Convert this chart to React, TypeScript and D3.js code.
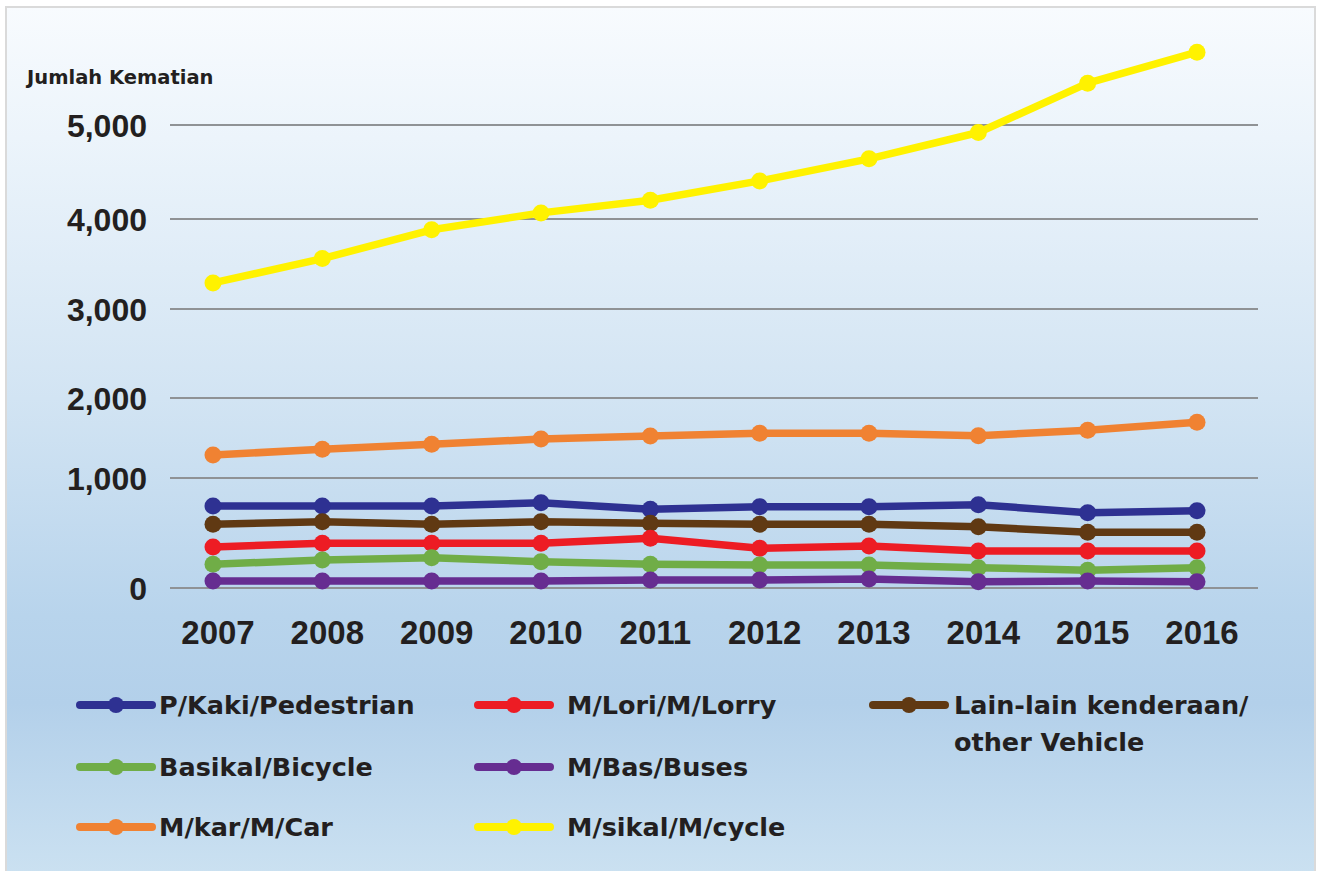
import React from "react";
import * as d3 from "d3";

const years = ["2007", "2008", "2009", "2010", "2011", "2012", "2013", "2014", "2015", "2016"];
const yTicks = [0, 1000, 2000, 3000, 4000, 5000];

const pedestrian = [745, 745, 745, 775, 715, 739, 739, 757, 685, 703];
const lorry = [373, 406, 406, 406, 452, 361, 382, 336, 336, 336];
const otherVehicle = [579, 603, 579, 603, 588, 579, 579, 557, 506, 506];
const bicycle = [215, 255, 275, 239, 215, 209, 209, 185, 161, 185];
const buses = [64, 64, 64, 64, 73, 73, 82, 57, 64, 57];
const car = [1287, 1359, 1421, 1487, 1525, 1559, 1559, 1529, 1596, 1696];
const motorcycle = [3290, 3560, 3880, 4065, 4200, 4405, 4640, 4920, 5445, 5775];

const seriesNames = [
  "M/sikal/M/cycle",
  "M/kar/M/Car",
  "P/Kaki/Pedestrian",
  "Lain-lain kenderaan/ other Vehicle",
  "M/Lori/M/Lorry",
  "Basikal/Bicycle",
  "M/Bas/Buses",
];
const seriesValues = [motorcycle, car, pedestrian, otherVehicle, lorry, bicycle, buses];
const seriesColors = ["#fff200", "#f08232", "#2e3192", "#603913", "#ed1c24", "#70ad47", "#662d91"];

// legend layout: [seriesIndex, column, row]
const legendLayout: [number, number, number][] = [
  [2, 0, 0],
  [4, 1, 0],
  [3, 2, 0],
  [5, 0, 1],
  [6, 1, 1],
  [1, 0, 2],
  [0, 1, 2],
];

export default function App() {
  const W = 1317;
  const H = 871;
  const x = d3.scalePoint<string>().domain(years).range([213, 1197]);
  const y = d3
    .scaleLinear()
    .domain(yTicks)
    .range([588, 478, 398, 309, 219, 125]);
  const line = d3
    .line<number>()
    .x((_, i) => x(years[i]) as number)
    .y((v) => y(v));
  const fmt = d3.format(",");
  const colX = [80, 478, 873];
  const textX = [159, 567, 954];
  const rowY = [705, 767, 827];
  const textColor = "#231f20";
  const legendFont = "'DejaVu Sans', sans-serif";
  const numFont = "'Liberation Sans', Arial, sans-serif";

  return (
    <svg
      width={W}
      height={H}
      style={{ position: "absolute", left: 0, top: 0 }}
      xmlns="http://www.w3.org/2000/svg"
    >
      <defs>
        <linearGradient id="bg" x1="0" y1="0" x2="0" y2="1">
          <stop offset="0" stopColor="#f8fbfe" />
          <stop offset="0.15" stopColor="#ecf4fb" />
          <stop offset="0.45" stopColor="#d2e4f3" />
          <stop offset="0.7" stopColor="#b8d4ec" />
          <stop offset="0.8" stopColor="#b3d0ea" />
          <stop offset="1" stopColor="#cbe1f1" />
        </linearGradient>
      </defs>
      <rect x={0} y={0} width={W} height={H} fill="#ffffff" />
      <rect x={6} y={7} width={1309} height={870} fill="url(#bg)" stroke="#dadada" strokeWidth={2} />

      {/* gridlines */}
      {yTicks.map((t) => (
        <line key={t} x1={170} x2={1258} y1={y(t)} y2={y(t)} stroke="#8f9295" strokeWidth={2} />
      ))}

      {/* y tick labels */}
      {yTicks.map((t) => (
        <text
          key={"l" + t}
          x={147}
          y={y(t) + 11.5}
          textAnchor="end"
          fontFamily={numFont}
          fontWeight="bold"
          fontSize={32}
          fill={textColor}
        >
          {fmt(t)}
        </text>
      ))}

      <text x={27} y={84} fontFamily={legendFont} fontWeight="bold" fontSize={19.5} fill={textColor}>
        Jumlah Kematian
      </text>

      {/* x tick labels */}
      {years.map((yr) => (
        <text
          key={yr}
          x={(x(yr) as number) + 5}
          y={644}
          textAnchor="middle"
          fontFamily={numFont}
          fontWeight="bold"
          fontSize={33}
          fill={textColor}
        >
          {yr}
        </text>
      ))}

      {/* series */}
      {seriesValues.map((vals, si) => (
        <g key={seriesNames[si]}>
          <path d={line(vals) || ""} fill="none" stroke={seriesColors[si]} strokeWidth={7.5} strokeLinejoin="round" />
          {vals.map((v, i) => (
            <circle key={i} cx={x(years[i]) as number} cy={y(v)} r={8.5} fill={seriesColors[si]} />
          ))}
        </g>
      ))}

      {/* legend */}
      {legendLayout.map(([si, col, row]) => {
        const ly = rowY[row];
        const lx = colX[col];
        const name = seriesNames[si];
        const parts = name.split(" other");
        return (
          <g key={"lg" + si}>
            <line x1={lx} x2={lx + 72} y1={ly} y2={ly} stroke={seriesColors[si]} strokeWidth={8} strokeLinecap="round" />
            <circle cx={lx + 36} cy={ly} r={8} fill={seriesColors[si]} />
            {parts.length > 1 ? (
              <text fontFamily={legendFont} fontWeight="bold" fontSize={25.5} fill={textColor}>
                <tspan x={textX[col]} y={ly + 8.5}>
                  {parts[0]}
                </tspan>
                <tspan x={textX[col]} y={ly + 45.5}>
                  {"other" + parts[1]}
                </tspan>
              </text>
            ) : (
              <text x={textX[col]} y={ly + 8.5} fontFamily={legendFont} fontWeight="bold" fontSize={25.5} fill={textColor}>
                {name}
              </text>
            )}
          </g>
        );
      })}
    </svg>
  );
}
